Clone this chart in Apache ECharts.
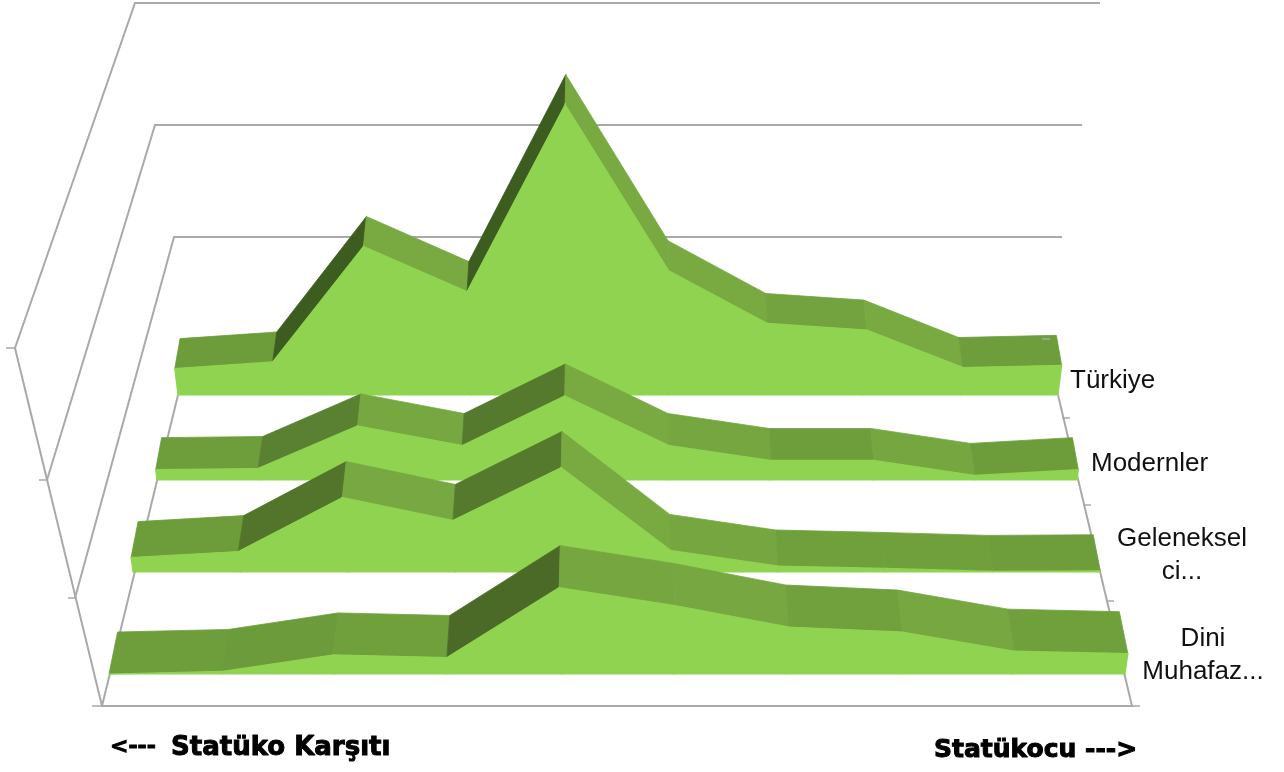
<!DOCTYPE html>
<html><head><meta charset="utf-8">
<style>html,body{margin:0;padding:0;background:#fff}#c{width:1284px;height:772px}</style>
<script src="https://cdn.jsdelivr.net/npm/echarts@6/dist/echarts.min.js"></script>
</head><body><div id="c"></div>
<script>
// ---- data ----
const categories = ['1','2','3','4','5','6','7','8','9','10'];
const turkiye   = [2.4,3.0,13.5,9.4,26.4,11.3,6.5,5.9,2.5,2.7];
const modernler = [0.9,1.0,4.7,3.0,7.3,3.0,1.7,1.7,0.4,0.9];
const geleneksel= [1.2,1.7,6.2,4.3,8.7,1.8,0.5,0.3,0.05,0.1];
const dini      = [0.0,0.2,1.5,1.3,6.8,5.4,3.7,3.3,1.8,1.6];
const rowNames  = ['Türkiye','Modernler','Geleneksel\nci...','Dini\nMuhafaz...'];
const rowValues = [turkiye,modernler,geleneksel,dini];

// ---- layout (perspective of the 3D box) ----
const yMax = 30;
const rowLeft  = [178,157,133,109];
const rowRight = [1058,1077,1100,1125];
const rowBase  = [395,480,572,674];
const rowScale = [11,11.5,12,12.7];
const rowDepth = [30,32,36,42];
const cx = 618, lean = 0.00028, conv = 0.0004;
const FACE = '#8fd350';
const slopeStops = [[-9,'#79aa42'],[-0.3,'#79aa42'],[-0.1,'#74a53f'],[0,'#6e9e3b'],[0.2,'#6a9a39'],[0.4,'#5c8533'],[0.5,'#54772c'],[0.6,'#4c6b28'],[1.2,'#3d5c20'],[9,'#3d5c20']];
function slopeColor(s){
  for(let i=1;i<slopeStops.length;i++){
    if(s<=slopeStops[i][0]){
      const a=slopeStops[i-1], b=slopeStops[i];
      return echarts.color.lerp((s-a[0])/(b[0]-a[0]),[a[1],b[1]]);
    }
  }
  return slopeStops[slopeStops.length-1][1];
}
// lean a screen point of height h outward from the centre line, as the 3D view does
function leanPt(p,base){const h=base-p[1];return [p[0]+(p[0]-cx)*h*lean,p[1]];}
function backPt(p,depth){const k=depth*conv;return [p[0]+(cx-p[0])*k,p[1]-depth];}

const grids=[],xAxes=[],yAxes=[],series=[];
rowValues.forEach((vals,r)=>{
  const h=yMax*rowScale[r];
  grids.push({left:rowLeft[r],width:rowRight[r]-rowLeft[r],top:rowBase[r]-h,height:h,containLabel:false});
  xAxes.push({type:'category',gridIndex:r,data:categories,boundaryGap:false,show:false});
  yAxes.push({type:'value',gridIndex:r,min:0,max:yMax,show:false});
  const segs=vals.slice(0,-1).map((v,i)=>[i,v,vals[i+1]]);
  const base={type:'custom',name:rowNames[r],xAxisIndex:r,yAxisIndex:r,data:segs,encode:{x:0,y:1},silent:true,animation:false,clip:false,z:2+r};
  series.push(Object.assign({},base,{
    renderItem(params,api){
      const i=api.value(0);
      const a=leanPt(api.coord([i,api.value(1)]),rowBase[r]);
      const b=leanPt(api.coord([i+1,api.value(2)]),rowBase[r]);
      const c=backPt(b,rowDepth[r]), d=backPt(a,rowDepth[r]);
      const col=slopeColor((a[1]-b[1])/(b[0]-a[0]));
      return {type:'polygon',shape:{points:[a,b,c,d]},style:{fill:col,stroke:col,lineWidth:0.8}};
    }
  }));
  series.push(Object.assign({},base,{
    renderItem(params,api){
      const i=api.value(0);
      const a0=api.coord([i,0]), b0=api.coord([i+1,0]);
      const a=leanPt(api.coord([i,api.value(1)]),rowBase[r]);
      const b=leanPt(api.coord([i+1,api.value(2)]),rowBase[r]);
      return {type:'polygon',shape:{points:[a0,b0,b,a]},style:{fill:FACE,stroke:FACE,lineWidth:1.2}};
    }
  }));
});

// ---- box frame ----
const LINE='#a9a9a9';
const poly=(pts,w,z)=>({type:'polyline',z:z||0,silent:true,shape:{points:pts},style:{stroke:LINE,lineWidth:w||2,fill:null}});
const txt=(x,y,t,align)=>({type:'text',z:20,silent:true,x:x,y:y,style:{text:t,fill:'#111',font:'400 26px "Liberation Sans"',align:align,verticalAlign:'top',lineHeight:33}});
const heavy=(x,y,t,size)=>({type:'text',z:20,silent:true,x:x,y:y,style:{text:t,fill:'#000',font:'700 '+size+'px "DejaVu Sans"',align:'left',verticalAlign:'top',stroke:'#000',lineWidth:1}});
const elements=[
  poly([[1100,3],[135,3],[15,348],[102,706],[1132,706],[1058,395]]),
  poly([[1082,125],[155,125],[47,480]]),
  poly([[1062,237],[174,237],[75,598]]),
  poly([[102,706],[178,395]]),
  poly([[6,348],[15,348]],1.5),poly([[39,480],[47,480]],1.5),poly([[68,598],[76,598]],1.5),poly([[92,706],[102,706]],1.5),
  poly([[1062,418],[1070,418]],1.5),poly([[1083,505],[1091,505]],1.5),poly([[1107,601],[1114,601]],1.5),poly([[1132,706],[1140,706]],1.5),
  poly([[1042,339],[1050,339]],1.5,15),
  txt(1070,364,rowNames[0],'left'),
  txt(1091,447,rowNames[1],'left'),
  txt(1182,522,rowNames[2],'center'),
  txt(1203,622,rowNames[3],'center'),
  heavy(110,736,'<---',22),
  heavy(171,735,'Statüko Karşıtı',26),
  heavy(934,738,'Statükocu --->',25)
];

const chart=echarts.init(document.getElementById('c'),null,{renderer:'canvas'});
chart.setOption({animation:false,backgroundColor:'#fff',grid:grids,xAxis:xAxes,yAxis:yAxes,series:series,graphic:{elements:elements}});
</script></body></html>
